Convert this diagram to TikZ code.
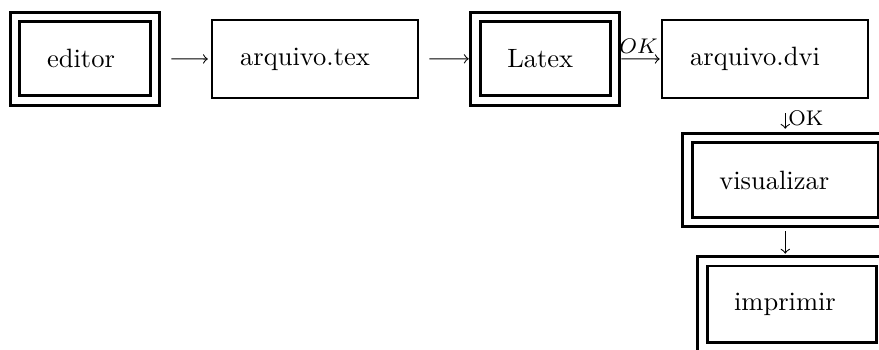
\documentclass[tikz,border=0pt]{standalone}
\usepackage{amsmath}
\usepackage{tikz}

\tikzset{
  caixa/.style={draw, line width=1pt, inner sep=0pt, minimum width=77.7pt, minimum height=29.4pt},
  caixadupla/.style={draw, line width=1pt, double, double distance=2.6pt, inner sep=0pt},
  seta/.style={->, thin}
}

\begin{document}
\begin{tikzpicture}[x=0.3774pt, y=-0.3774pt]
        % area visivel (as caixas da direita sao cortadas)
        \clip (0,0) rectangle (879,349);
        % Linha de cima (texto um pouco a esquerda do centro)
        \node[caixadupla, minimum width=52.8pt, minimum height=31.5pt] (editor) at (85,58.75) {editor\hspace*{3pt}};
        \node[caixa] (arqtex) at (315,59) {arquivo.tex\hspace*{7.5pt}};
        \node[caixadupla, minimum width=52.6pt, minimum height=31.5pt] (latex) at (545.25,58.75) {Latex\hspace*{3.8pt}};
        \node[caixa] (arqdvi) at (765,59) {arquivo.dvi\hspace*{7.5pt}};
        % Coluna da direita
        \node[caixadupla, minimum width=73.8pt, minimum height=31.7pt] (visual) at (785.25,180) {visualizar\hspace*{8.3pt}};
        \node[caixadupla, minimum width=67.6pt, minimum height=32.6pt] (imprimir) at (792,304.25) {imprimir\hspace*{5.3pt}};
        % Setas
        \draw[seta, shorten <=5.7pt, shorten >=1.1pt] (editor.east) -- (arqtex.west);
        \draw[seta, shorten <=3.8pt, shorten >=2.1pt] (arqtex.east) -- (latex.west);
        \draw[seta, shorten <=1.9pt, shorten >=0.4pt] (latex.east) -- node[above, inner sep=2pt] {\footnotesize $OK$} (arqdvi.west);
        \draw[seta, shorten <=5.3pt, shorten >=3pt] (arqdvi.south -| visual.north) -- node[right, inner sep=1pt] {\footnotesize OK} (visual.north);
        \draw[seta, shorten <=3pt, shorten >=2.3pt] (visual.south) -- (imprimir.north -| visual.south);
\end{tikzpicture}
\end{document}
